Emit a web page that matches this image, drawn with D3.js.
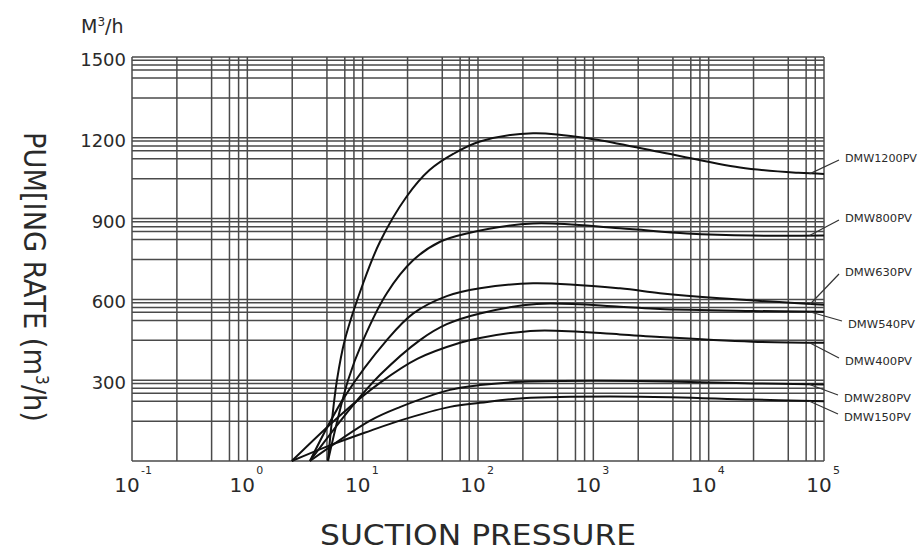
<!DOCTYPE html>
<html><head><meta charset="utf-8">
<script src="https://cdn.jsdelivr.net/npm/d3@7"></script>
<style>body{margin:0;background:#fff;} svg{display:block;}</style>
</head><body>
<svg id="chart" width="919" height="552"></svg>
<script>
// ---- data ----
const decadeExponents = [-1, 0, 1, 2, 3, 4, 5];
const minorMultipliers = [2.45, 4.9, 7.0, 8.4];
const rateTicks = [300, 600, 900, 1200, 1500];
const bandLineOffsets = [0, 12, 30, 48, 78, 152];
const seriesNames = ["DMW1200PV", "DMW800PV", "DMW630PV", "DMW540PV", "DMW400PV", "DMW280PV", "DMW150PV"];

// [suction pressure, pumping rate m3/h]
const dmw1200 = [[5.0,0],[5.42,152],[5.99,301],[7.0,449],[10.1,660],[14.1,813],[24,981],[38,1080],[61,1140],[104,1186],[300,1217],[1000,1195],[3780,1147],[18700,1090],[60000,1070],[100000,1066]];
const dmw800  = [[5.0,0],[7.47,300],[10.1,449],[16.2,623],[27.5,746],[46.9,814],[79.8,845],[300,882],[1700,864],[6460,845],[24000,837],[100000,837]];
const dmw630  = [[3.49,0],[7.0,240],[16.2,449],[27.5,548],[53.6,612],[104,641],[300,660],[1700,641],[3780,623],[12500,604],[100000,580]];
const dmw540  = [[3.49,0],[8.0,200],[14.1,319],[31.4,449],[53.6,508],[104,548],[323,583],[1700,573],[3780,564],[24000,557],[100000,554]];
const dmw400  = [[2.43,0],[6.4,170],[14.1,290],[30,380],[69.8,439],[104,457],[323,484],[1700,470],[3780,460],[24000,443],[100000,439]];
const dmw280  = [[3.49,0],[11.6,150],[21,200],[57.2,264],[104,282],[245,294],[2540,297],[24000,288],[100000,284]];
const dmw150  = [[2.43,0],[5.2,58],[11.6,112],[21,150],[57.2,201],[104,216],[245,233],[2540,239],[24000,228],[100000,222]];
const seriesData = [dmw1200, dmw800, dmw630, dmw540, dmw400, dmw280, dmw150];

// label placement (annotation layout)
const labelY = [158, 218, 272, 324, 361, 398, 417];
const labelX = [845, 845, 845, 848, 845, 844, 844];

// ---- chart ----
const svg = d3.select("#chart");
const x = d3.scaleLog().domain([0.1, 1e5]).range([132, 824]);
const y = d3.scaleLinear().domain([0, 1500]).range([461, 57]);

const gridColor = "#4a4a4a";
const grid = svg.append("g");

// vertical grid
const vLines = [];
decadeExponents.forEach(e => {
  vLines.push(Math.pow(10, e));
  if (e < 5) minorMultipliers.forEach(m => vLines.push(m * Math.pow(10, e)));
});
grid.selectAll("line.v").data(vLines).join("line")
  .attr("x1", d => x(d)).attr("x2", d => x(d))
  .attr("y1", y(0)).attr("y2", y(1500))
  .attr("stroke", gridColor).attr("stroke-width", 1.5);

// horizontal grid
const hLines = [0];
rateTicks.forEach(t => bandLineOffsets.forEach(o => hLines.push(t - o)));
grid.selectAll("line.h").data(hLines).join("line")
  .attr("x1", x(0.1)).attr("x2", x(1e5))
  .attr("y1", d => y(d)).attr("y2", d => y(d))
  .attr("stroke", gridColor).attr("stroke-width", 1.5);

// y tick labels
svg.append("g").selectAll("text").data(rateTicks).join("text")
  .attr("x", 126).attr("y", d => y(d) + 9)
  .attr("text-anchor", "end")
  .attr("font-family", "DejaVu Sans, sans-serif").attr("font-size", 18)
  .attr("fill", "#2a2a2a").text(d => d);

// x tick labels 10^n
const xt = svg.append("g").selectAll("g").data(decadeExponents).join("g");
xt.append("text")
  .attr("x", d => x(Math.pow(10, d)) - 5).attr("y", 492)
  .attr("text-anchor", "middle")
  .attr("font-family", "DejaVu Sans, sans-serif").attr("font-size", 20)
  .attr("fill", "#2a2a2a").text("10");
xt.append("text")
  .attr("x", d => x(Math.pow(10, d)) + 9).attr("y", 474)
  .attr("font-family", "DejaVu Sans, sans-serif").attr("font-size", 11)
  .attr("fill", "#2a2a2a").text(d => d);

// curves
const line = d3.line().x(d => x(d[0])).y(d => y(d[1])).curve(d3.curveCatmullRom.alpha(0.5));
svg.append("g").selectAll("path").data(seriesData).join("path")
  .attr("d", line).attr("fill", "none")
  .attr("stroke", "#111").attr("stroke-width", 2);

// leader lines and labels
const leaderP = 75000;
seriesData.forEach((s, i) => {
  const last = s[s.length - 1];
  const x0 = x(leaderP), y0 = y(last[1]);
  const ly = labelY[i];
  svg.append("line")
    .attr("x1", x0).attr("y1", y0)
    .attr("x2", labelX[i] - 6).attr("y2", ly + (ly < y0 ? 2 : -3))
    .attr("stroke", "#333").attr("stroke-width", 1.2);
  svg.append("text")
    .attr("x", labelX[i]).attr("y", ly + 4)
    .attr("font-family", "DejaVu Sans, sans-serif").attr("font-size", 11.3)
    .attr("textLength", seriesNames[i].length > 8 ? 72 : 67)
    .attr("lengthAdjust", "spacingAndGlyphs")
    .attr("fill", "#2a2a2a").text(seriesNames[i]);
});

// unit label
const u = svg.append("text").attr("x", 81).attr("y", 33)
  .attr("font-family", "DejaVu Sans, sans-serif").attr("font-size", 19).attr("fill", "#2a2a2a");
u.append("tspan").text("M");
u.append("tspan").attr("font-size", 12).attr("dy", -7).text("3");
u.append("tspan").attr("dy", 7).text("/h");

// y axis title
const yt = svg.append("text")
  .attr("transform", "translate(24,277) rotate(90)")
  .attr("text-anchor", "middle")
  .attr("font-family", "DejaVu Sans, sans-serif").attr("font-size", 30)
  .attr("fill", "#2a2a2a");
yt.append("tspan").text("PUM[ING RATE (m");
yt.append("tspan").attr("font-size", 17).attr("dy", -12).text("3");
yt.append("tspan").attr("dy", 12).text("/h)");
yt.attr("textLength", 290).attr("lengthAdjust", "spacingAndGlyphs");

// x axis title
svg.append("text").attr("x", 478).attr("y", 545)
  .attr("text-anchor", "middle")
  .attr("font-family", "DejaVu Sans, sans-serif").attr("font-size", 28)
  .attr("fill", "#2a2a2a")
  .attr("textLength", 316).attr("lengthAdjust", "spacingAndGlyphs")
  .text("SUCTION  PRESSURE");
</script>
</body></html>
